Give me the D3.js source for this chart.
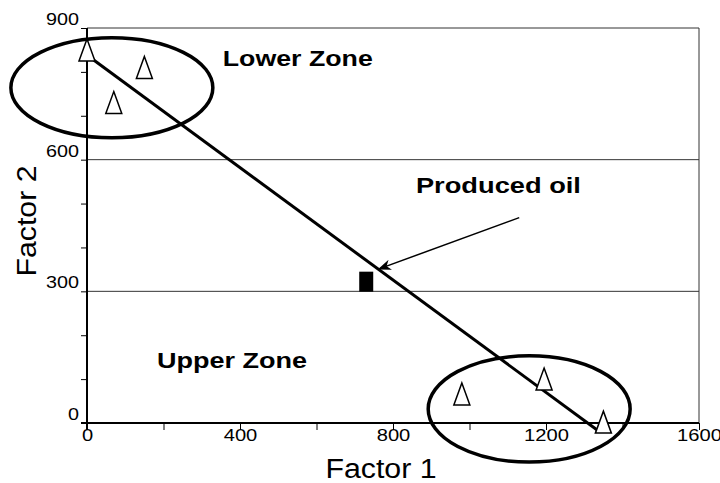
<!DOCTYPE html>
<html>
<head>
<meta charset="utf-8">
<script src="https://cdn.jsdelivr.net/npm/d3@7"></script>
<style>
  body { margin: 0; background: #fff; }
  text { font-family: "Liberation Sans", Arial, sans-serif; }
</style>
</head>
<body>
<div id="chart"></div>
<script>
// sample points (Factor 1, Factor 2)
var sampleX = [0, 150, 70, 980, 1195, 1350];
var sampleY = [850, 810, 730, 66, 100, 2];

// produced oil
var oilX = [730];
var oilY = [322];

// trend line end points
var lineX = [5, 1340];
var lineY = [835, -20];

// zone ellipses: center x, center y, radius x, radius y (data units)
var zoneNames = ["Lower Zone", "Upper Zone"];
var zoneCx = [65, 1156];
var zoneCy = [764, 32];
var zoneRx = [264, 264];
var zoneRy = [114, 121];

var xTicks = [0, 400, 800, 1200, 1600];
var yTicks = [0, 300, 600, 900];

var width = 720, height = 483;
var margin = { top: 28, right: 21, bottom: 60, left: 87 };

var svg = d3.select("#chart")
  .append("svg")
  .attr("width", width)
  .attr("height", height);

var x = d3.scaleLinear()
  .domain([0, 1600])
  .range([margin.left, width - margin.right]);

var y = d3.scaleLinear()
  .domain([0, 900])
  .range([height - margin.bottom, margin.top]);

// text in the picture is drawn a bit wide, so stretch it
function stretch(sel, perChar) {
  sel.attr("textLength", function() { return this.textContent.length * perChar; })
    .attr("lengthAdjust", "spacingAndGlyphs");
}

// frame lines and gridlines at 300, 600
svg.selectAll(".grid")
  .data([300, 600, 900])
  .enter().append("line")
  .attr("x1", x(0))
  .attr("x2", x(1600))
  .attr("y1", d => y(d))
  .attr("y2", d => y(d))
  .attr("stroke", "#333")
  .attr("stroke-width", 1);

svg.append("line")
  .attr("x1", x(1600)).attr("x2", x(1600))
  .attr("y1", y(0)).attr("y2", y(900))
  .attr("stroke", "#333")
  .attr("stroke-width", 1);

// x axis
var xAxis = svg.append("g")
  .attr("transform", "translate(0," + y(0) + ")")
  .call(d3.axisBottom(x).tickValues(d3.range(0, 1601, 200)).tickSize(7).tickFormat(d => xTicks.includes(d) ? d : ""));
xAxis.select(".domain").attr("stroke-width", 2).attr("d", "M" + (x(0) - 6) + ",0H" + x(1600));
xAxis.selectAll(".tick line").attr("stroke-width", 1);
xAxis.selectAll("text")
  .attr("y", 6)
  .attr("dy", "0.71em")
  .style("font-size", "17px")
  .attr("fill", "#000")
  .call(stretch, 11.2);

// y axis
var yAxis = svg.append("g")
  .attr("transform", "translate(" + x(0) + ",0)")
  .call(d3.axisLeft(y).tickValues(d3.range(0, 901, 100)).tickSize(6).tickFormat(d => yTicks.includes(d) ? d : ""));
yAxis.select(".domain").attr("stroke-width", 2).attr("d", "M0," + (y(0) + 7) + "V" + y(900));
yAxis.selectAll(".tick line").attr("stroke-width", 1);
yAxis.selectAll("text")
  .attr("x", -8)
  .attr("y", -9)
  .attr("dy", "0.32em")
  .style("font-size", "17px")
  .attr("fill", "#000")
  .call(stretch, 11);

// trend line
svg.append("line")
  .attr("x1", x(lineX[0])).attr("y1", y(lineY[0]))
  .attr("x2", x(lineX[1])).attr("y2", y(lineY[1]))
  .attr("stroke", "#000")
  .attr("stroke-width", 3);

// ellipses
svg.selectAll(".zone")
  .data(zoneCx)
  .enter().append("ellipse")
  .attr("cx", d => x(d))
  .attr("cy", (d, i) => y(zoneCy[i]))
  .attr("rx", (d, i) => x(zoneRx[i]) - x(0))
  .attr("ry", (d, i) => y(0) - y(zoneRy[i]))
  .attr("fill", "none")
  .attr("stroke", "#000")
  .attr("stroke-width", 3.5);

// open triangles
svg.selectAll(".sample")
  .data(sampleX)
  .enter().append("path")
  .attr("d", "M0,-11L8,11L-8,11Z")
  .attr("transform", (d, i) => "translate(" + x(d) + "," + y(sampleY[i]) + ")")
  .attr("fill", "#fff")
  .attr("stroke", "#000")
  .attr("stroke-width", 1.5);

// produced oil square
svg.selectAll(".oil")
  .data(oilX)
  .enter().append("rect")
  .attr("x", d => x(d) - 7)
  .attr("y", (d, i) => y(oilY[i]) - 10)
  .attr("width", 14)
  .attr("height", 20)
  .attr("fill", "#000");

// arrow
svg.append("defs").append("marker")
  .attr("id", "head")
  .attr("viewBox", "0 0 10 10")
  .attr("refX", 10).attr("refY", 5)
  .attr("markerWidth", 9).attr("markerHeight", 9)
  .attr("orient", "auto")
  .append("path")
  .attr("d", "M0,1L10,5L0,9L3,5Z")
  .attr("fill", "#000");

svg.append("line")
  .attr("x1", x(1130)).attr("y1", y(468))
  .attr("x2", x(760)).attr("y2", y(350))
  .attr("stroke", "#000")
  .attr("stroke-width", 1.5)
  .attr("marker-end", "url(#head)");

// annotations
var labels = [
  { t: "Lower Zone", x: 355, y: 814, w: 150 },
  { t: "Produced oil", x: 860, y: 525, w: 165 },
  { t: "Upper Zone", x: 183, y: 126, w: 150 }
];
svg.selectAll(".note")
  .data(labels)
  .enter().append("text")
  .attr("x", d => x(d.x))
  .attr("y", d => y(d.y))
  .attr("textLength", d => d.w)
  .attr("lengthAdjust", "spacingAndGlyphs")
  .style("font-size", "22px")
  .style("font-weight", "bold")
  .text(d => d.t);

// axis titles
svg.append("text")
  .attr("x", 381)
  .attr("y", 478)
  .attr("text-anchor", "middle")
  .style("font-size", "27px")
  .text("Factor 1")
  .call(stretch, 13.9);

svg.append("text")
  .attr("transform", "translate(36," + 221 + ") rotate(-90)")
  .attr("text-anchor", "middle")
  .style("font-size", "27px")
  .text("Factor 2")
  .call(stretch, 13.9);
</script>
</body>
</html>
